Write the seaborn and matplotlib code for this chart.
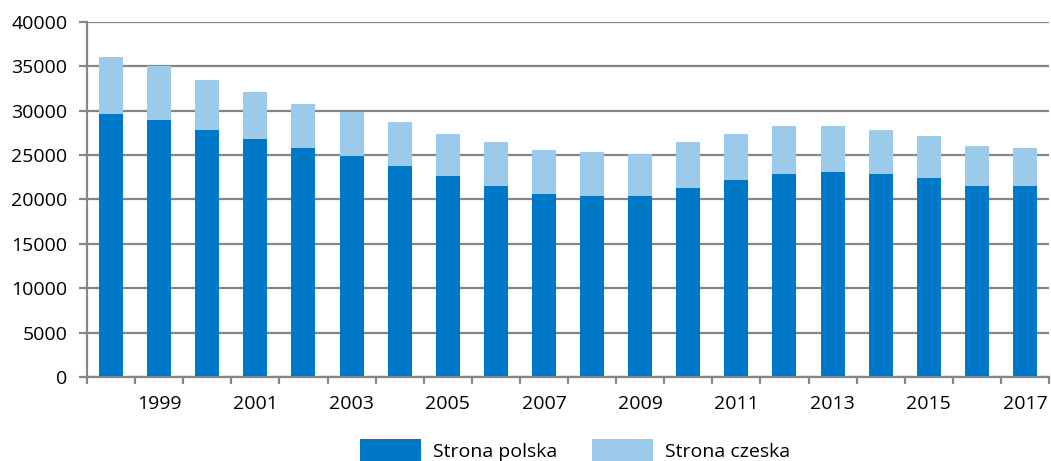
import matplotlib
matplotlib.use("Agg")
import matplotlib.pyplot as plt
import seaborn as sns
import pandas as pd
from matplotlib.patches import Patch

years = list(range(1998, 2018))
strona_polska = [29600, 28950, 27800, 26870, 25750, 24850, 23750, 22600, 21500, 20600,
                 20400, 20400, 21250, 22150, 22850, 23050, 22850, 22400, 21500, 21500]
total = [36000, 35050, 33500, 32150, 30780, 29850, 28750, 27400, 26450, 25600,
         25350, 25100, 26450, 27400, 28300, 28300, 27850, 27180, 26050, 25800]
strona_czeska = [t - p for t, p in zip(total, strona_polska)]
series_labels = ["Strona polska", "Strona czeska"]
tick_years = [str(y) if y % 2 == 1 else "" for y in years]

dark = "#0078C8"
light = "#9CCAEA"
grid = "#868686"

sns.set_style("white")
plt.rcParams["font.family"] = ["Open Sans", "DejaVu Sans"]
plt.rcParams["text.color"] = "black"
plt.rcParams["xtick.labelcolor"] = "black"
plt.rcParams["ytick.labelcolor"] = "black"

df = pd.DataFrame({"year": [str(y) for y in years],
                   "polska": strona_polska,
                   "total": [p + c for p, c in zip(strona_polska, strona_czeska)]})

fig = plt.figure(figsize=(10.51, 4.61), dpi=100)
ax = fig.add_axes([87 / 1051, 1 - 377 / 461, (1049 - 87) / 1051, (377 - 22) / 461])

sns.barplot(data=df, x="year", y="total", color=light, width=0.5, ax=ax,
            saturation=1, linewidth=0)
sns.barplot(data=df, x="year", y="polska", color=dark, width=0.5, ax=ax,
            saturation=1, linewidth=0)

ax.set_xlim(-0.5, len(years) - 0.5)
ax.set_ylim(0, 40000)
ax.set_yticks(range(0, 40001, 5000))
ax.set_xticks(range(len(years)))
ax.set_xticklabels(tick_years)
ax.set_xticks([i - 0.5 for i in range(len(years) + 1)], minor=True)
ax.set_xlabel("")
ax.set_ylabel("")

ax.set_axisbelow(True)
ax.yaxis.grid(True, color=grid, linewidth=1.6)
for s in ["top", "right"]:
    ax.spines[s].set_visible(False)
for s in ["left", "bottom"]:
    ax.spines[s].set_color(grid)
    ax.spines[s].set_linewidth(1.6)

ax.tick_params(axis="y", which="major", length=6, width=1.6, color=grid,
               labelsize=14, pad=8, left=True, direction="out", labelcolor="black")
ax.tick_params(axis="x", which="major", length=0, labelsize=14, pad=13, labelcolor="black")
ax.tick_params(axis="x", which="minor", length=5, width=1.6, color=grid,
               bottom=True, direction="out")

handles = [Patch(facecolor=dark, edgecolor="none"),
           Patch(facecolor=light, edgecolor="none")]
fig.legend(handles, series_labels, loc="lower center", bbox_to_anchor=(0.547, 0.0),
           ncol=2, frameon=False, fontsize=14, handlelength=3.15, handleheight=1.35,
           handletextpad=0.6, columnspacing=1.8, borderpad=0.0, borderaxespad=0.0)

fig.savefig("out.png", dpi=100)
